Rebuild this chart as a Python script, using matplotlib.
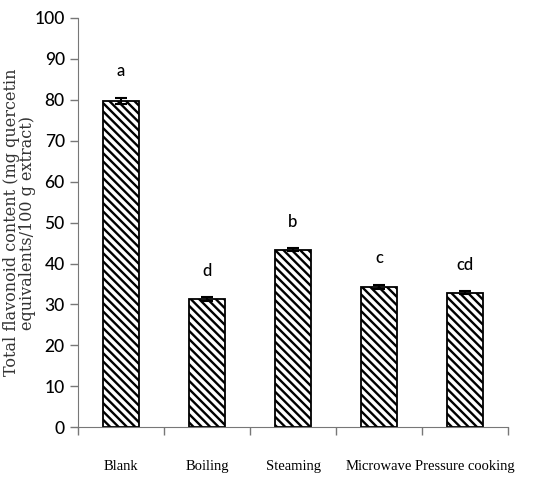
import numpy as np
import matplotlib.pyplot as plt

# values
methods = ["Blank", "Boiling", "Steaming", "Microwave", "Pressure cooking"]
flavonoid = [79.7, 31.3, 43.4, 34.3, 32.9]
flav_err = [0.8, 0.4, 0.4, 0.5, 0.3]
letters = ["a", "d", "b", "c", "cd"]

plt.rcParams["hatch.linewidth"] = 1.7

fig = plt.figure(figsize=(5.51, 4.80), dpi=100)
ax = fig.add_axes([0.1416, 0.110, 0.7804, 0.8525])

x = np.arange(len(methods))
ax.bar(x, flavonoid, width=0.42, color="white", edgecolor="black", lw=1.3,
       hatch="\\\\\\\\", zorder=2)
ax.errorbar(x, flavonoid, yerr=flav_err, fmt="none", ecolor="black",
            elinewidth=1.5, capsize=4, capthick=1.5, zorder=3)

for xi, v, e, lab in zip(x, flavonoid, flav_err, letters):
    ax.text(xi, v + e + 4.5, lab, ha="center", va="bottom",
            fontsize=12, family="Lato", fontweight="medium")

ax.set_xlim(-0.5, len(methods) - 0.5)
ax.set_ylim(0, 100)
ax.set_yticks(np.arange(0, 101, 10))
ax.set_yticklabels([str(v) for v in range(0, 101, 10)],
                   family="Lato", fontsize=12.5, fontweight="medium")

# category ticks between bars, labels under the bars
ax.set_xticks(np.arange(-0.5, len(methods), 1.0))
ax.set_xticklabels([])
ax.tick_params(axis="x", direction="out", length=6, width=1, color="#777777")
ax.tick_params(axis="y", direction="out", length=6, width=1, color="#777777")
for xi, lab in zip(x, methods):
    ax.text(xi, -0.08, lab, transform=ax.get_xaxis_transform(), ha="center",
            va="top", family="Liberation Serif", fontsize=10.5)

ax.spines["top"].set_visible(False)
ax.spines["right"].set_visible(False)
ax.spines["left"].set_color("#777777")
ax.spines["bottom"].set_color("#777777")

ax.set_ylabel("Total flavonoid content (mg quercetin\nequivalents/100 g extract)",
              family="DejaVu Serif", fontsize=11.5, linespacing=0.95,
              color="#333333")
ax.yaxis.set_label_coords(-0.098, 0.5)

fig.savefig("out.png", dpi=100)
